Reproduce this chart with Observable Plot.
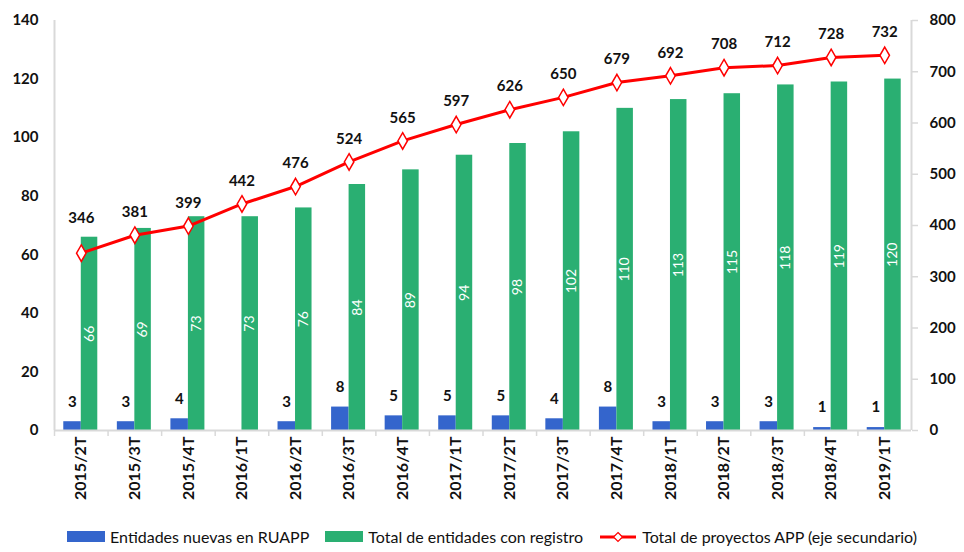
<!DOCTYPE html>
<html>
<head>
<meta charset="utf-8">
<script src="https://cdn.jsdelivr.net/npm/d3@7"></script>
<script src="https://cdn.jsdelivr.net/npm/@observablehq/plot@0.6"></script>
<style>
  body { margin: 0; background: #fff; font-family: Lato, "Open Sans", sans-serif; }
  #chart { width: 964px; }
  .legend { display: flex; justify-content: center; align-items: center; gap: 16px; font-size: 16px; color: #111; margin-top: 12px; padding-left: 20px; }
  .legend .item { display: flex; align-items: center; gap: 5px; }
  .sw { display: inline-block; width: 38px; height: 11px; }
</style>
</head>
<body>
<div id="chart"></div>
<script>
const periods = ["2015/2T","2015/3T","2015/4T","2016/1T","2016/2T","2016/3T","2016/4T","2017/1T","2017/2T","2017/3T","2017/4T","2018/1T","2018/2T","2018/3T","2018/4T","2019/1T"];
const nuevas = [3,3,4,0,3,8,5,5,5,4,8,3,3,3,1,1];
const totalEntidades = [66,69,73,73,76,84,89,94,98,102,110,113,115,118,119,120];
const proyectos = [346,381,399,442,476,524,565,597,626,650,679,692,708,712,728,732];
const leftTicks = [0,20,40,60,80,100,120,140];
const rightTicks = [0,100,200,300,400,500,600,700,800];

const BLUE = "#3465cc", GREEN = "#2aaf72", RED = "#ff0000", AXIS = "#d9d9d9";
const W = 964, ML = 54, MR = 53;
const bw = (W - ML - MR) / periods.length;
const toLeft = v => v * 140 / 800;

const rows = periods.map((p, i) => ({p, i, nuevas: nuevas[i], total: totalEntidades[i], proy: proyectos[i]}));

const chart = Plot.plot({
  width: W,
  height: 515,
  marginLeft: ML,
  marginRight: MR,
  marginTop: 20,
  marginBottom: 85,
  style: {fontFamily: "Lato, 'Open Sans', sans-serif", fontSize: "15px", color: "#111", background: "#fff"},
  x: {type: "band", domain: periods, padding: 0, round: false, label: null},
  y: {domain: [0, 140], label: null},
  marks: [
    Plot.barY(rows, {x: "p", y: "nuevas", fill: BLUE, insetLeft: bw/2 - 17.5, insetRight: bw/2}),
    Plot.barY(rows, {x: "p", y: "total", fill: GREEN, insetLeft: bw/2, insetRight: bw/2 - 16.5}),
    Plot.text(rows.filter(d => d.nuevas > 0), {x: "p", y: "nuevas", text: "nuevas", dx: -9, dy: -20, fontWeight: "bold", fontSize: 15, fill: "#111"}),
    Plot.text(rows, {x: "p", y: d => d.total / 2, text: "total", dx: 8, rotate: -90, fill: "white", fontSize: 14}),
    Plot.ruleY([0], {stroke: AXIS, strokeWidth: 2}),
    Plot.ruleX([periods[0]], {x: d => d, dx: -bw/2, y1: 0, y2: 140, stroke: AXIS, strokeWidth: 2}),
    Plot.ruleX([periods[periods.length-1]], {x: d => d, dx: bw/2, y1: 0, y2: 140, stroke: AXIS, strokeWidth: 2}),
    Plot.axisX({tickSize: 6, tickFormat: () => "", dx: -bw/2, stroke: AXIS, strokeWidth: 1.5, label: null}),
    Plot.axisX({tickSize: 0, tickRotate: -90, tickPadding: 6, fontWeight: "bold", fontSize: 16, fill: "#111", label: null, textAnchor: "end"}),
    Plot.axisY(leftTicks, {anchor: "left", tickSize: 0, tickPadding: 16, fontWeight: "bold", fontSize: 15, fill: "#111", label: null}),
    Plot.axisY(rightTicks.map(toLeft), {anchor: "right", tickSize: 6, tickPadding: 12, stroke: AXIS, strokeWidth: 1.5, tickFormat: d => Math.round(d * 800 / 140), fontWeight: "bold", fontSize: 15, fill: "#111", label: null}),
    Plot.lineY(rows, {x: "p", y: d => toLeft(d.proy), stroke: RED, strokeWidth: 3}),
    Plot.dot(rows, {x: "p", y: d => toLeft(d.proy), symbol: "diamond", r: 5, fill: "white", stroke: RED, strokeWidth: 1.5}),
    Plot.text(rows.filter(d => d.i === 0), {x: "p", y: d => toLeft(d.proy), text: "proy", dy: -35, fontWeight: "bold", fontSize: 15, fill: "#111"}),
    Plot.text(rows.filter(d => d.i > 0), {x: "p", y: d => toLeft(d.proy), text: "proy", dy: -23, fontWeight: "bold", fontSize: 15, fill: "#111"})
  ]
});
document.getElementById("chart").appendChild(chart);

const legend = document.createElement("div");
legend.className = "legend";
legend.innerHTML = `
  <span class="item"><span class="sw" style="background:${BLUE}"></span>Entidades nuevas en RUAPP</span>
  <span class="item"><span class="sw" style="background:${GREEN}"></span>Total de entidades con registro</span>
  <span class="item"><svg width="38" height="14"><line x1="1" y1="7" x2="37" y2="7" stroke="${RED}" stroke-width="3"/><path d="M19 2.5 L23.5 7 L19 11.5 L14.5 7 Z" fill="white" stroke="${RED}" stroke-width="1.2"/></svg>Total de proyectos APP (eje secundario)</span>`;
document.getElementById("chart").appendChild(legend);
</script>
</body>
</html>
